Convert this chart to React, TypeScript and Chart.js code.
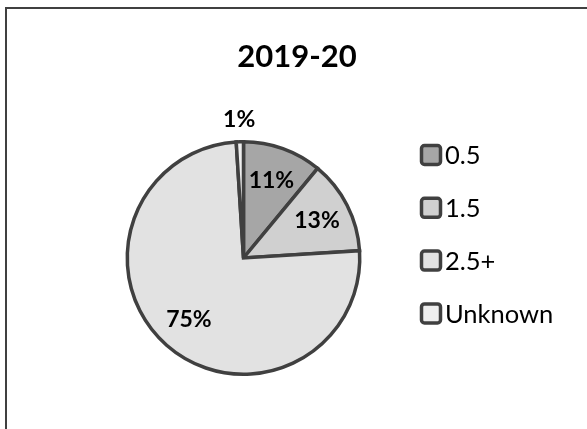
import React, { useEffect, useRef } from "react";
import { Chart, registerables } from "chart.js";

Chart.register(...registerables);

const title = "2019-20";
const categories = ["0.5", "1.5", "2.5+", "Unknown"];
const values = [11, 13, 75, 1];
const percentLabels = ["11%", "13%", "75%", "1%"];
const colors = ["#a6a6a6", "#d0d0d0", "#e2e2e2", "#eeeeee"];
const borderColor = "#404040";

const FONT = "Lato, 'Open Sans', sans-serif";

const overlayPlugin = {
  id: "overlay",
  afterDraw(chart: any) {
    const ctx = chart.ctx;
    const meta = chart.getDatasetMeta(0);
    ctx.save();
    // title
    ctx.fillStyle = "#000";
    ctx.font = `bold 31px ${FONT}`;
    ctx.textAlign = "center";
    ctx.textBaseline = "middle";
    ctx.fillText(title, 297, 57);

    // data labels
    ctx.font = `bold 23px ${FONT}`;
    meta.data.forEach((arc: any, i: number) => {
      const { x, y, startAngle, endAngle, outerRadius } = arc.getProps(
        ["x", "y", "startAngle", "endAngle", "outerRadius"],
        true
      );
      const mid = (startAngle + endAngle) / 2;
      const r = values[i] < 3 ? outerRadius + 22 : outerRadius * 0.71;
      ctx.fillText(percentLabels[i], x + Math.cos(mid) * r, y + Math.sin(mid) * r);
    });

    // legend
    ctx.textAlign = "left";
    ctx.font = `25.5px ${FONT}`;
    categories.forEach((c, i) => {
      const cy = 155 + i * 52.8;
      ctx.beginPath();
      if ((ctx as any).roundRect) (ctx as any).roundRect(421.5, cy - 9.5, 19, 19, 3);
      else ctx.rect(421.5, cy - 9.5, 19, 19);
      ctx.fillStyle = colors[i];
      ctx.fill();
      ctx.lineWidth = 3.5;
      ctx.strokeStyle = borderColor;
      ctx.stroke();
      ctx.fillStyle = "#000";
      ctx.fillText(c, 445, cy + 1);
    });
    ctx.restore();
  },
};

export default function App() {
  const ref = useRef<HTMLCanvasElement>(null);
  useEffect(() => {
    if (!ref.current) return;
    const chart = new Chart(ref.current, {
      type: "pie",
      data: {
        labels: categories,
        datasets: [
          {
            data: values,
            backgroundColor: colors,
            borderColor: borderColor,
            borderWidth: 3.5,
            borderJoinStyle: "miter",
          } as any,
        ],
      },
      options: {
        animation: false,
        responsive: false,
        events: [],
        layout: { padding: { left: 125, right: 225, top: 140, bottom: 53 } },
        plugins: {
          legend: { display: false },
          title: { display: false },
          tooltip: { enabled: false },
        },
      },
      plugins: [overlayPlugin],
    });
    return () => chart.destroy();
  }, []);

  return (
    <div style={{ position: "fixed", left: 0, top: 0, width: 587, height: 429, background: "#fff", overflow: "hidden" }}>
      <div
        style={{
          position: "absolute",
          left: 5,
          top: 7,
          width: 620,
          height: 460,
          borderLeft: "2px solid #404040",
          borderTop: "2px solid #404040",
        }}
      />
      <canvas ref={ref} width={587} height={429} style={{ position: "absolute", left: 0, top: 0 }} />
    </div>
  );
}
